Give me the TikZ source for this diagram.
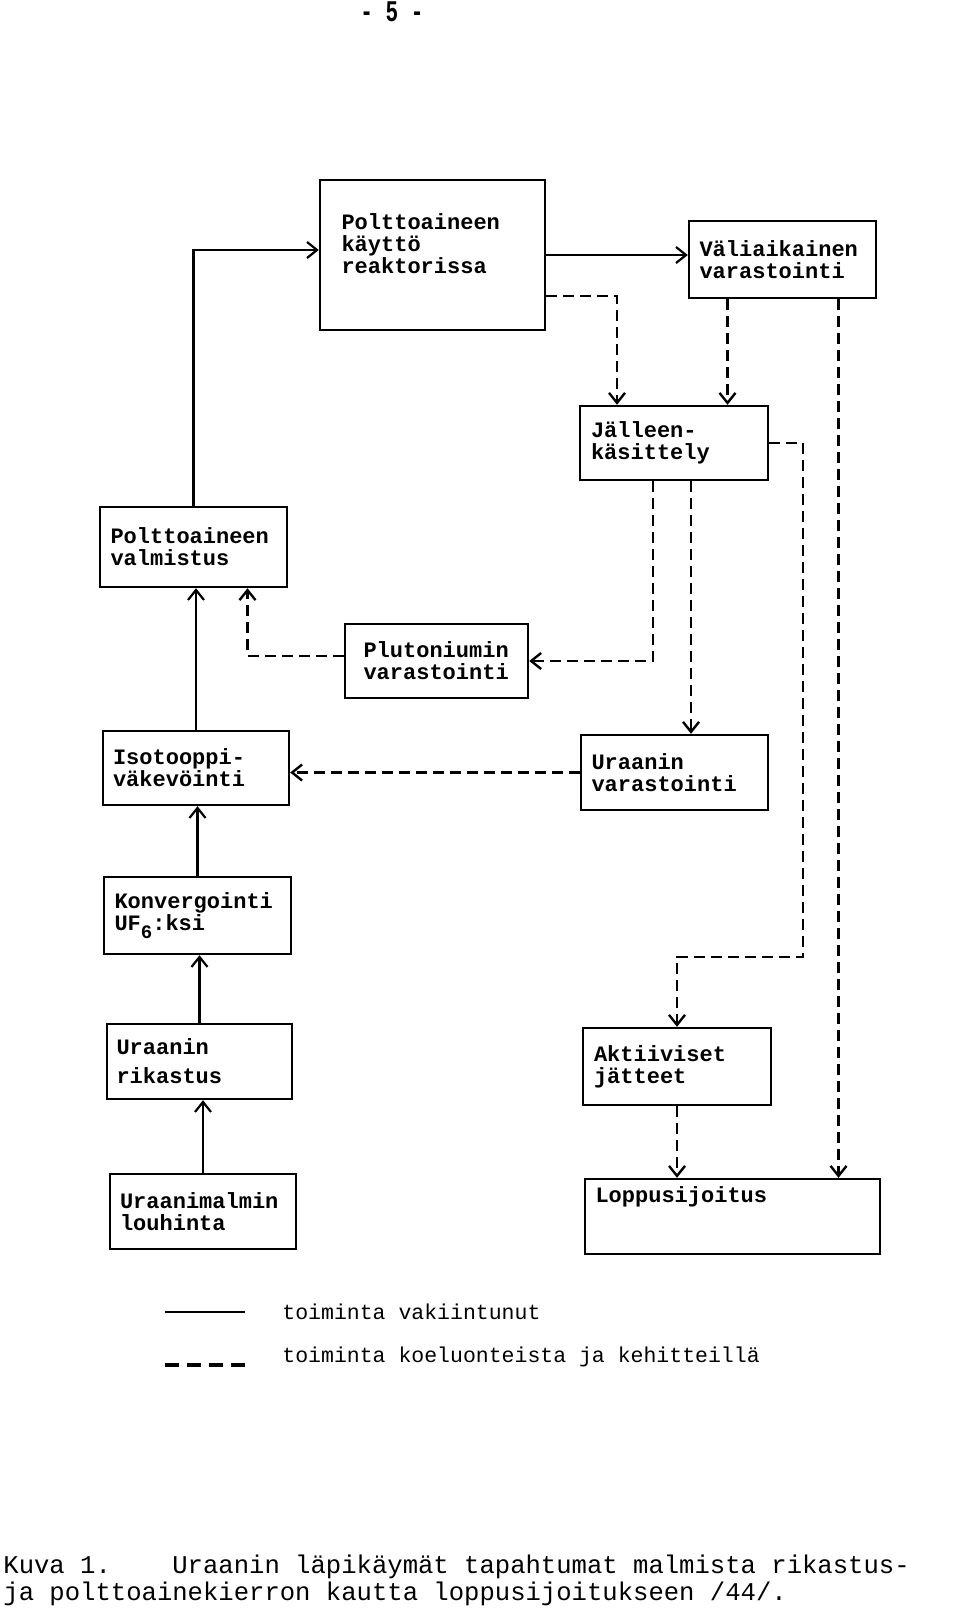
\documentclass[tikz,border=0pt]{standalone}
\usepackage{fontspec}
\usepackage{graphicx}
\usetikzlibrary{arrows.meta}
\newfontfamily\typewriter{Liberation Mono}

\begin{document}
\begin{tikzpicture}[x=0.5pt, y=-0.5pt,
    box/.style={draw, line width=1.2pt, align=left, inner sep=0pt,
        font=\typewriter\bfseries\fontsize{11pt}{11pt}\selectfont,
        minimum width=93.5pt, minimum height=37.5pt, text width=83pt},
    flow/.style={line width=1.1pt, -{Straight Barb[length=5pt,width=8pt]}},
    trial/.style={flow, line width=1.2pt, dash pattern=on 5.5pt off 3pt},
    legend/.style={anchor=west, inner sep=0pt, font=\typewriter\fontsize{10.75pt}{11pt}\selectfont},
    caption/.style={anchor=base west, inner sep=0pt, font=\typewriter\fontsize{12.8pt}{13pt}\selectfont}]

    \useasboundingbox (0,0) rectangle (960,1613);

    \node[inner sep=0pt, font=\typewriter\bfseries\fontsize{15pt}{15pt}\selectfont] (page) at (392,12) {\scalebox{0.7}[1]{- 5 -}};

    \node[box, minimum width=112.5pt, minimum height=75pt, text width=91pt] (reactor) at (432.5,255) {Polttoaineen\\käyttö\\reaktorissa\\\mbox{}};
    \node[box, minimum height=38.5pt] (interim) at (782.5,259.5) {Väliaikainen\\varastointi};
    \node[box, minimum width=94pt, minimum height=37pt] (reproc) at (674,443) {Jälleen-\\käsittely};
    \node[box, minimum height=40pt] (fabric) at (193.5,547) {Polttoaineen\\valmistus};
    \node[box, minimum width=91.5pt, minimum height=37pt, text width=73pt] (plutonium) at (436.5,661) {Plutoniumin\\varastointi};
    \node[box, minimum width=93pt, minimum height=37pt] (enrich) at (196,768) {Isotooppi-\\väkevöinti};
    \node[box] (uranstore) at (674.5,772.5) {Uraanin\\varastointi};
    \node[box, minimum height=38.5pt] (conversion) at (197.5,915.5) {Konvergointi\\UF\raisebox{-4pt}{\fontsize{9.5pt}{9.5pt}\selectfont 6}:ksi};
    \node[box, minimum width=92.5pt] (milling) at (199.5,1061.5) {Uraanin\\[3.5pt]rikastus};
    \node[box, minimum width=94pt, minimum height=38.5pt] (waste) at (677,1066.5) {Aktiiviset\\jätteet};
    \node[box, minimum width=93pt] (mining) at (203,1211.5) {Uraanimalmin\\louhinta};
    \node[box, minimum width=147.5pt, text width=137pt] (disposal) at (732.5,1216.5) {Loppusijoitus\\\mbox{}\\\mbox{}};

    \draw[flow] (fabric.north) |- ([yshift=2.5pt]reactor.west);
    \draw[flow] (reactor.east) -- (reactor.east -| interim.west);
    \foreach \a/\b in {enrich/fabric, conversion/enrich, milling/conversion, mining/milling}
    \draw[flow] (\a.north) -- (\a.north |- \b.south);

    \coordinate (r1) at ([yshift=-20.5pt]reactor.east);
    \coordinate (r2) at ([xshift=-28.5pt]reproc.north);
    \coordinate (i1) at ([xshift=-27.5pt]interim.south);
    \coordinate (i2) at ([xshift=28pt]interim.south);
    \coordinate (p1) at ([xshift=-10.5pt]reproc.south);
    \coordinate (p2) at ([xshift=8.5pt]reproc.south);
    \coordinate (w1) at (803,957);
    \coordinate (f1) at ([yshift=2.5pt]plutonium.west);
    \coordinate (f2) at ([xshift=27pt]fabric.south);

    \draw[trial] (r1) -| (r2);
    \draw[trial] (i1) -- (i1 |- reproc.north);
    \draw[trial] (i2) -- (i2 |- disposal.north);
    \draw[trial] (p1) |- (plutonium.east);
    \draw[trial] (p2) -- (p2 |- uranstore.north);
    \draw[trial] (reproc.east) -| (w1) -| (waste.north);
    \draw[trial] (f1) -| (f2);
    \draw[trial] (uranstore.west) -- (uranstore.west -| enrich.east);
    \draw[trial] (waste.south) -- (waste.south |- disposal.north);

    \coordinate (s0) at (165,1312);
    \coordinate (s1) at (245,1312);
    \coordinate (d0) at (165,1365);
    \coordinate (d1) at (245,1365);
    \draw[line width=1.3pt] (s0) -- (s1);
    \draw[line width=1.6pt, dash pattern=on 7pt off 4pt] (d0) -- (d1);
    \node[legend] (solidtext) at (282,1312) {toiminta vakiintunut};
    \node[legend] (dashtext) at (282,1357) {toiminta koeluonteista ja kehitteillä};

    \node[caption] (cap1) at (3,1573) {Kuva 1.\ \ \ \ Uraanin läpikäymät tapahtumat malmista rikastus-};
    \node[caption] (cap2) at (3,1600) {ja polttoainekierron kautta loppusijoitukseen /44/.};

\end{tikzpicture}
\end{document}
